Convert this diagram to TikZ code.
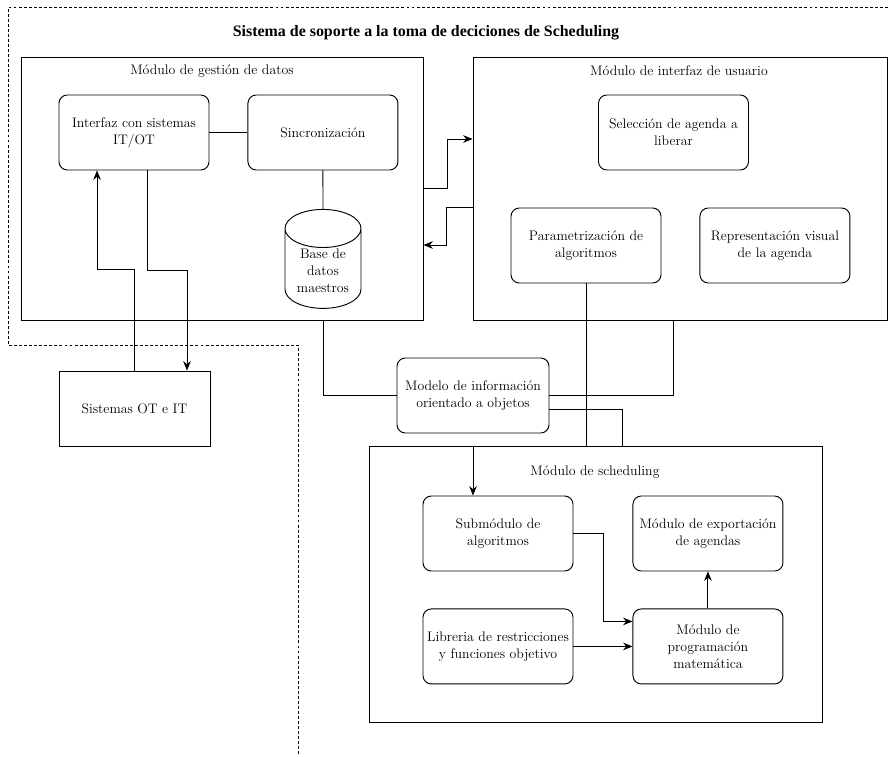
\documentclass[tikz,border=0pt]{standalone}
\usepackage{fontspec}
\newfontfamily\titlefont{Liberation Serif}
\usetikzlibrary{positioning,shapes.geometric,arrows.meta}
\begin{document}
\begin{tikzpicture}[x=0.3mm, y=-0.3mm, node distance=1.14cm, line width=0.8pt,
	font=\fontsize{11.8}{14.5}\selectfont,
	modulo/.style={draw, inner sep=0pt},
	bloque/.style={draw, rounded corners=0.25cm, align=center, minimum width=4.5cm, minimum height=2.25cm, inner sep=2pt},
	caja/.style={draw, align=center, minimum width=4.53cm, minimum height=2.25cm},
	datos/.style={draw, cylinder, shape border rotate=90, aspect=0.7, align=center, minimum width=2.28cm, minimum height=2.8cm, inner sep=1pt},
	flecha/.style={-{Stealth[length=8pt, width=6.5pt]}},
	limite/.style={line width=0.6pt, dash pattern=on 2.5pt off 1.8pt}]
	\useasboundingbox (0,0) rectangle (888,756);
	\draw[limite] (888,7) -- (8,7) -- (8,345) -- (298,345) -- (298,756);
	\node[font=\titlefont\fontsize{13.6}{16}\selectfont\bfseries] (titulo) at (426,33) {Sistema de soporte a la toma de deciciones de Scheduling};

	\node[modulo, minimum width=12.06cm, minimum height=7.89cm] (gestion) at (222,188.5) {};
	\node (tgestion) at (212,71) {Módulo de gestión de datos};
	\node[bloque] (interfaz) at (134,132.5) {Interfaz con sistemas\\IT/OT};
	\node[bloque] (sincro) [right=of interfaz] {Sincronización};
	\node[datos] (base) at (323,271) {Base de\\datos\\maestros};
	\node[caja] (sistemas) at (134.5,408.5) {Sistemas OT e IT};

	\node[modulo, minimum width=12.42cm, minimum height=7.89cm] (usuario) at (680,188.5) {};
	\node (tusuario) at (679,71) {Módulo de interfaz de usuario};
	\node[bloque] (seleccion) at (673.5,132.5) {Selección de agenda a\\liberar};
	\node[bloque] (param) at (586,245.5) {Parametrización de\\algoritmos};
	\node[bloque] (visual) [right=of param] {Representación visual\\de la agenda};

	\node[bloque, minimum width=4.56cm] (modelo) at (473,395.5) {Modelo de información\\orientado a objetos};

	\node[modulo, minimum width=13.59cm, minimum height=8.28cm] (sched) at (595.5,584) {};
	\node (tsched) at (595,472) {Módulo de scheduling};
	\node[bloque] (submod) at (498,533.5) {Submódulo de\\algoritmos};
	\node[bloque] (export) [right=1.77cm of submod] {Módulo de exportación\\de agendas};
	\node[bloque] (libreria) [below=1.11cm of submod] {Libreria de restricciones\\y funciones objetivo};
	\node[bloque] (progmat) [below=1.11cm of export] {Módulo de\\programación\\matemática};

	\draw (interfaz) -- (sincro);
	\draw (sincro) -- (base);
	\draw[flecha] (sistemas.north) -- ++(0,-101) -| ([xshift=-1.11cm]interfaz.south);
	\draw[flecha] ([xshift=0.39cm]interfaz.south) -- ++(0,100) -| ([xshift=1.575cm]sistemas.north);
	\draw[flecha] (gestion.east) -- ++(24,0) |- ([yshift=1.485cm]usuario.west);
	\draw[flecha] ([yshift=-0.555cm]usuario.west) -- ++(-26,0) |- ([yshift=-1.695cm]gestion.east);
	\draw (gestion.south -| base) |- (modelo);
	\draw (modelo) -| ([xshift=-0.21cm]usuario.south);
	\draw (param) -- (param |- sched.north);
	\draw ([yshift=-0.405cm]modelo.east) -| ([xshift=0.795cm]sched.north);
	\draw[flecha] (sched.north -| modelo) -- (submod.north -| modelo);
	\draw[flecha] (submod.east) -- ++(30,0) |- ([yshift=0.75cm]progmat.west);
	\draw[flecha] (libreria.east) -- (libreria.east -| progmat.west);
	\draw[flecha] (progmat) -- (export);
\end{tikzpicture}
\end{document}
